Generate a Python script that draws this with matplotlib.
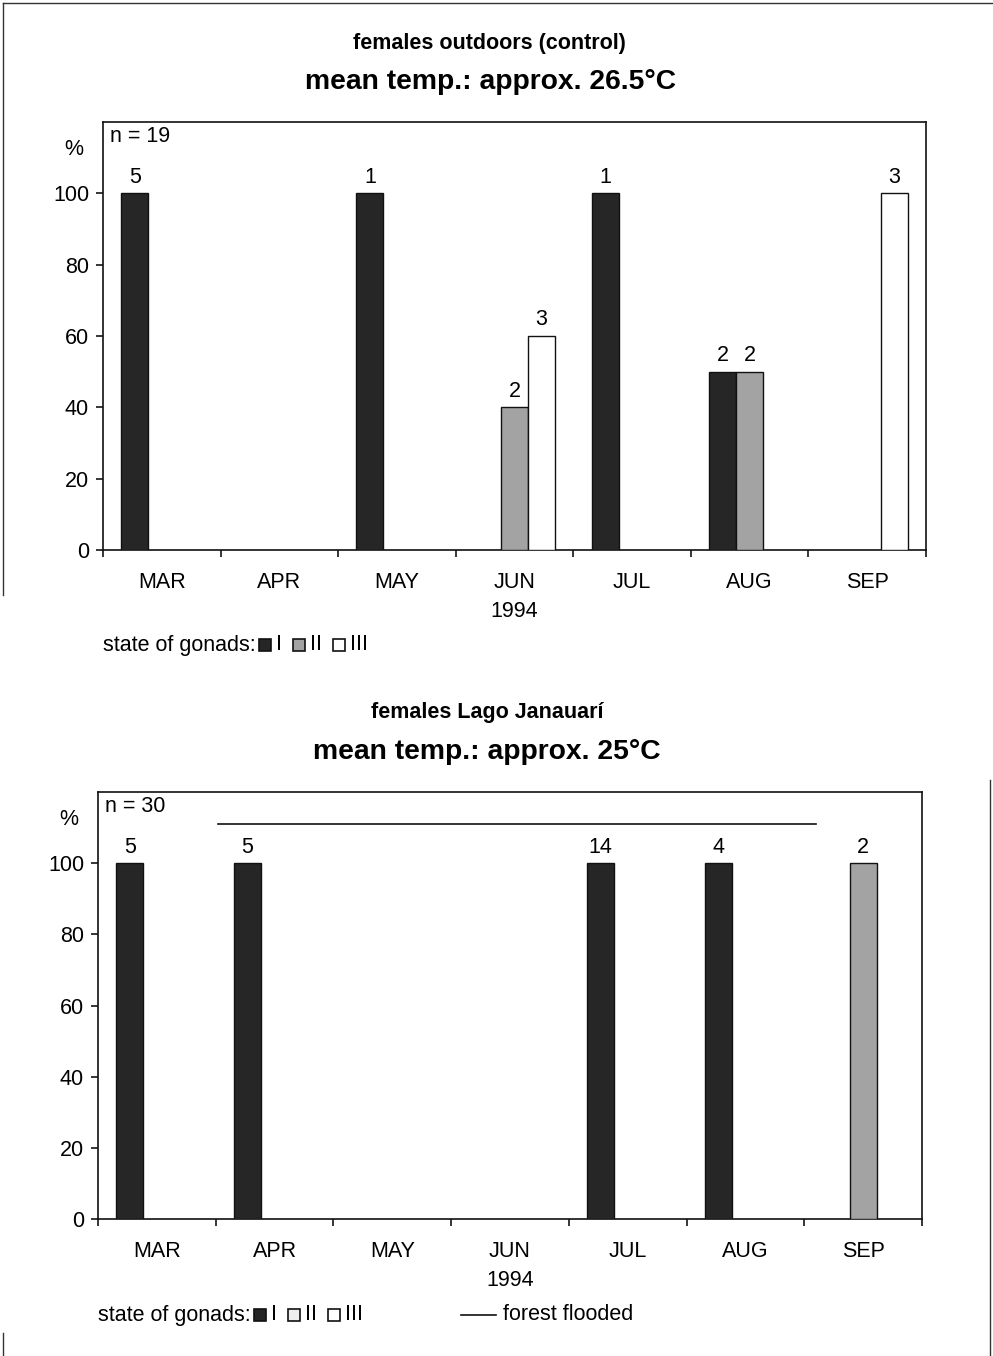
import matplotlib
matplotlib.use("Agg")
import matplotlib.pyplot as plt
import matplotlib.patches as mpatches
from matplotlib.lines import Line2D

plt.rcParams['font.family'] = ['Liberation Sans', 'DejaVu Sans']

# ---------- data ----------
months = ['MAR', 'APR', 'MAY', 'JUN', 'JUL', 'AUG', 'SEP']

# top: females outdoors (control), n = 19
out_I = [100, 0, 100, 0, 100, 50, 0]
out_II = [0, 0, 0, 40, 0, 50, 0]
out_III = [0, 0, 0, 60, 0, 0, 100]
out_n_I = [5, None, 1, None, 1, 2, None]
out_n_II = [None, None, None, 2, None, 2, None]
out_n_III = [None, None, None, 3, None, None, 3]

# bottom: females Lago Janauari, n = 30
lago_I = [100, 100, 0, 0, 100, 100, 0]
lago_II = [0, 0, 0, 0, 0, 0, 100]
lago_III = [0, 0, 0, 0, 0, 0, 0]
lago_n_I = [5, 5, None, None, 14, 4, None]
lago_n_II = [None, None, None, None, None, None, 2]
lago_n_III = [None] * 7

flood_start, flood_end, flood_level = 0.52, 5.6, 111

BLACK = '#262626'
GREY = '#a3a3a3'
WHITE = '#ffffff'
FS = 15.5

fig = plt.figure(figsize=(9.93, 13.56), dpi=100)


def draw_panel(ax, series, counts, n_text):
    offsets = [-0.23, 0.0, 0.23]
    colors = [BLACK, GREY, WHITE]
    for vals, cnts, off, col in zip(series, counts, offsets, colors):
        for i, (v, c) in enumerate(zip(vals, cnts)):
            if v <= 0:
                continue
            ax.bar(i + off, v, width=0.23, color=col, edgecolor='#111111',
                   linewidth=1.0, zorder=3)
            if c is not None:
                ax.annotate(str(c), xy=(i + off, v), xytext=(0, 4),
                            textcoords='offset points', ha='center',
                            va='bottom', fontsize=FS)
    ax.set_xlim(-0.5, 6.5)
    ax.set_ylim(0, 120)
    ax.set_yticks(range(0, 101, 20))
    ax.tick_params(axis='y', direction='out', length=5, width=1.1,
                   labelsize=FS, pad=5)
    ax.set_xticks([i - 0.5 for i in range(8)])
    ax.set_xticklabels([])
    ax.tick_params(axis='x', which='major', direction='out', length=5,
                   width=1.1)
    ax.set_xticks(range(7), minor=True)
    ax.set_xticklabels(months, minor=True, fontsize=FS)
    ax.tick_params(axis='x', which='minor', length=0, pad=16)
    for s in ax.spines.values():
        s.set_linewidth(1.2)
        s.set_color('#111111')
    ax.text(0.009, 0.967, n_text, transform=ax.transAxes, fontsize=FS,
            ha='left', va='center')
    ax.text(-0.036, 0.935, '%', transform=ax.transAxes, fontsize=FS,
            ha='center', va='center')
    ax.annotate('1994', xy=(3, 0), xycoords=('data', 'axes fraction'),
                xytext=(0, -44), textcoords='offset points', ha='center',
                va='center', fontsize=FS)


def gonad_legend(x0, y, second_col):
    r = fig.canvas.get_renderer()
    t = fig.text(x0, y, 'state of gonads:', fontsize=FS, ha='left',
                 va='center')
    x = t.get_window_extent(r).x1 + 3
    W, H = fig.bbox.width, fig.bbox.height
    sq = 12
    for col, lab in zip([BLACK, second_col, WHITE], ['I', 'II', 'III']):
        fig.patches.append(mpatches.Rectangle(
            (x / W, (y * H - sq / 2) / H), sq / W, sq / H,
            facecolor=col, edgecolor='#111111', linewidth=1.2,
            transform=fig.transFigure, figure=fig))
        x += sq + 5
        tt = fig.text(x / W, y, lab, fontsize=FS, ha='left', va='center')
        x = tt.get_window_extent(r).x1 + 11


# ---------- top panel ----------
ax1 = fig.add_axes([103 / 993, 1 - 550 / 1356, 823 / 993, 428 / 1356])
draw_panel(ax1, [out_I, out_II, out_III], [out_n_I, out_n_II, out_n_III],
           'n = 19')
fig.text(489 / 993, 1 - 43 / 1356, 'females outdoors (control)',
         fontsize=15.5, fontweight='bold', ha='center', va='center')
fig.text(491 / 993, 1 - 82 / 1356, 'mean temp.: approx. 26.5°C',
         fontsize=20.3, fontweight='bold', ha='center', va='center')
gonad_legend(103 / 993, 1 - 645 / 1356, GREY)

# ---------- bottom panel ----------
ax2 = fig.add_axes([98 / 993, 1 - 1219 / 1356, 824 / 993, 427 / 1356])
draw_panel(ax2, [lago_I, lago_II, lago_III],
           [lago_n_I, lago_n_II, lago_n_III], 'n = 30')
ax2.plot([flood_start, flood_end], [flood_level, flood_level],
         color='#111111', linewidth=1.2, zorder=2)
fig.text(487 / 993, 1 - 713 / 1356, 'females Lago Janauarí',
         fontsize=15.5, fontweight='bold', ha='center', va='center')
fig.text(487 / 993, 1 - 752 / 1356, 'mean temp.: approx. 25°C',
         fontsize=20.3, fontweight='bold', ha='center', va='center')
gonad_legend(98 / 993, 1 - 1315 / 1356, '#eeeeee')
fig.lines.append(Line2D([461 / 993, 496 / 993], [1 - 1315 / 1356] * 2,
                        color='#111111', linewidth=1.2,
                        transform=fig.transFigure))
fig.text(503 / 993, 1 - 1315 / 1356, 'forest flooded', fontsize=FS,
         ha='left', va='center')

# scanned page frame lines
for xs, ys in [([3, 993], [3, 3]), ([3, 3], [3, 595]),
               ([990, 990], [780, 1356]), ([3, 3], [1333, 1356])]:
    fig.lines.append(Line2D([x / 993 for x in xs],
                            [1 - y / 1356 for y in ys],
                            color='#333333', linewidth=1.0,
                            transform=fig.transFigure))

fig.savefig('out.png', dpi=100)
